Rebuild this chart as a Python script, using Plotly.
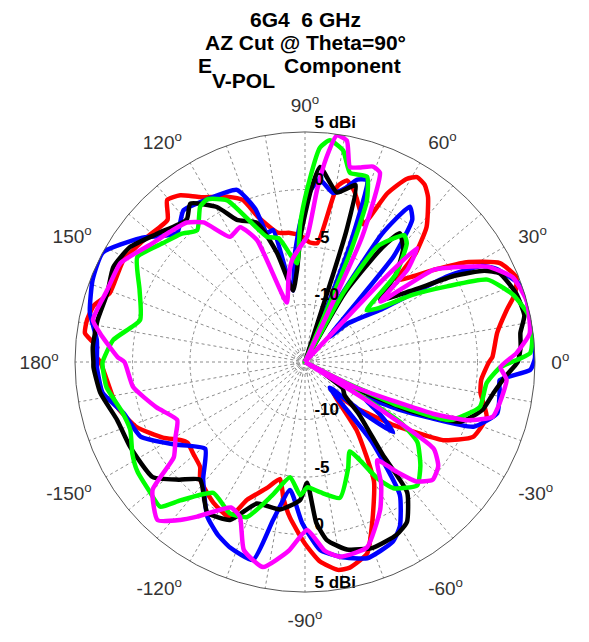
import plotly.graph_objects as go

# ---------------- data (angle in degrees, gain in dBi) ----------------
red_theta = [-180, -174.8, -166.5, -158.9, -152, -148, -145.5, -140, -135, -131.7, -123, -116, -112.8, -107, -102, -99,
             -95.5, -90, -85.7, -81, -77.7, -72, -67, -60, -53, -47, -42, -39.4, -35.6, -33, -29.5, -24, -16.8, -10,
             -5.8, 0, 1.5, 8.6, 14.4, 18, 21.8, 26.9, 31.7, 35.7, 41.7, 44.5, 48, 53.3, 56, 58.8, 61, 64, 67, 70, 74,
             77, 79.6, 84, 87.6, 92, 96.6, 102, 108, 111, 115.3, 122.5, 126.8, 130.4, 134, 141.6, 150.7, 160.5, 165,
             169, 172.5, 176, 177.6, 180]
red_db = [2.8, 2.3, 1.8, 0.7, -1.0, -2.2, -2.6, -2.4, -2.1, -1.3, -0.4, 0.0, -2.0, -3.5, -4.6, -3.0,
          -1.4, 0.8, 2.4, 3.3, 3.3, 2.5, 0.0, -3.0, -7.5, -11.4, -9.0, -8.0, -5.6, -4.0, -1.2, 1.0, 1.5, 0.5,
          0.4, 1.0, 1.3, 1.9, 3.1, 4.2, 4.8, 4.0, 1.5, -1.3, -4.3, -1.5, 0.8, 2.9, 3.6, 3.8, 3.2, 1.3, -2.0, -1.0, 0.5,
          1.2, 0.5, -4.6, -4.6, -4.0, -3.7, -3.5, -1.7, 0.1, 0.9, 2.0, 3.1, 3.5, 2.2, 2.5, 3.1, 3.0, 4.0,
          4.3, 4.3, 3.1, 3.4, 2.8]

blue_theta = [-180, -178.6, -171.3, -164.3, -155.6, -148, -139, -131, -122.3, -117, -112, -104.7, -101.4, -96.7, -91,
              -85.4, -79.8, -72.4, -64, -60, -54.5, -50, -46, -41, -38.5, -35, -31, -27, -24, -21, -14.9, -8.2, -5.3,
              -2, 1, 8.7, 19, 26, 28.5, 31, 34.7, 42, 46, 50, 53, 56, 59, 62, 66, 69, 71.2, 74, 77, 80.6, 85.3, 88,
              92, 96, 99.5, 101.5, 103.6, 106.4, 108, 111.6, 121, 128.7, 134.8, 143, 151.6, 158.9, 167, 174, 180]
blue_db = [3.1, 3.1, 2.8, 1.4, 0.7, -1.5, -3.5, -1.5, 0.9, 1.8, 2.4, 2.8, -1.0, -3.8, -1.0,
           1.4, 2.2, 2.9, 2.4, 1.5, -0.8, -6.0, -11.9, -8.0, -5.2, -7.0, -9.0, -6.0, -3.0, 0.7, 2.3, 2.1, 2.0,
           4.6, 5.0, 5.0, 5.0, 3.5, 2.5, -0.5, -7.0, -10.0, -12.0, -3.0, 0.5, 1.3, -2.0, -9.0, -12.0, -4.0, 1.7, 1.5,
           0.5, -0.1, 0.9, 0.0, -2.9, -6.0, -8.7, -7.5, -3.2, -3.3, -1.0, 1.1, 1.5, 1.9, 0.8, 2.9, 5.0, 4.8, 4.2,
           3.2, 3.1]

black_theta = [-180, -178.6, -171.4, -162.9, -154, -142.9, -137, -131.7, -123, -115.4, -108.8, -99.6, -92, -89, -86,
               -83, -77.4, -70, -62, -57.5, -51.9, -50, -44, -40, -35, -31, -28, -25, -21, -15, -9.4, -4, 0, 4, 7.7,
               12, 18, 24.5, 27, 30, 34, 39.6, 44, 49, 53.6, 56, 60, 64, 71, 72.5, 74, 79.3, 85.6, 88, 92, 95, 99.5,
               104.4, 109, 115.6, 119.6, 125.9, 129.7, 138.9, 146.7, 153.7, 160.8, 168.6, 176, 180]
black_db = [3.4, 3.4, 3.0, 2.1, 1.9, 1.6, 0.0, -1.3, 0.6, 0.2, -2.0, -2.0, -3.0, -4.5, -1.0,
            0.6, 1.7, 2.2, 2.0, 1.5, -0.6, -4.5, -8.5, -10.5, -11.0, -13.0, -10.0, -5.0, -0.5, 1.0, 1.6, 2.5, 3.5, 3.8,
            3.9, 4.5, 4.3, 3.6, 2.5, 0.0, -4.0, -6.5, -4.0, -2.0, -1.1, -3.0, -8.0, -15.0, -15.0, -3.0, 1.0, 0.0, 2.0,
            0.0, -4.0, -7.0, -8.7, -5.2, -2.2, -1.3, 0.5, 2.0, 1.1, 2.0, 3.2, 3.6, 3.2, 3.4, 3.5, 3.4]

green_theta = [-180, -178.6, -172.8, -165, -158.8, -152, -147, -140, -135, -132, -125, -116.4, -110.5, -104, -97.4,
               -92, -89, -83.4, -75.6, -68, -63.4, -58, -55, -47.7, -42, -35.5, -32.3, -30, -29, -27, -25, -21.8,
               -14.4, -6.6, -1.5, 2.3, 8.7, 12.4, 18, 24.3, 28, 32, 36, 40, 44, 49.4, 52, 55, 58, 61, 63, 66, 67.5,
               69, 71.5, 76.6, 79.8, 83.6, 86, 89.3, 92, 94.6, 98, 102, 107, 115.7, 121, 124, 129.3, 134, 140, 148,
               156.4, 165.7, 173.5, 180]
green_db = [2.6, 2.6, 2.4, 1.5, 1.3, 2.0, 2.4, 2.6, 2.8, 1.2, -1.1, -0.3, -0.6, -3.0, -4.9,
            -3.4, -4.1, -3.6, -2.8, -5.0, -6.3, -3.0, -1.6, -0.5, -1.5, -3.0, -5.2, -12.0, -15.0, -12.0, -6.0, -1.4,
            0.7, 0.9, 2.0, 4.6, 5.0, 4.8, 4.0, 2.4, -1.0, -4.0, -7.0, -8.0, -4.0, -1.4, -1.0, -2.0, -3.2, -8.0, -15.0,
            -15.0, -5.0, 0.0, 2.0, 1.9, 3.7, 4.4, 3.7, 0.0, -3.0, -6.4, -5.5, -4.0, -3.6, 0.6, 1.5, 1.3, -0.2, 0.5,
            1.1, 2.2, 0.7, -0.2, 1.8, 2.6]

magenta_theta = [-180, -171.7, -163, -155.6, -150, -144, -140, -133, -128.3, -124.9, -117, -112.8, -108, -101.6, -95,
                 -89.3, -84, -79.8, -71.5, -63, -58, -53.7, -50, -47, -42.7, -38, -34, -32, -30, -28, -26.6, -22,
                 -19.7, -16.3, -11.9, -5, -1.5, 2.4, 7.3, 15.4, 22.2, 27.6, 31.5, 35.7, 38.7, 42, 45.5, 46.5, 47.5,
                 63, 65.5, 68.4, 70.8, 74, 77, 79.3, 82, 84, 86, 89, 92.5, 97, 101, 107, 111.5, 115.7, 121, 126,
                 130.3, 136, 142, 151.8, 160, 168.8, 172, 178.5, 180]
magenta_db = [0.7, 0.1, -1.5, -2.8, -2.0, -0.9, 2.3, 3.8, 2.5, 1.4, -0.8, -0.4, 2.2, 3.2, 1.5,
              -0.4, 1.5, 2.2, 2.0, -0.6, -2.5, -4.4, -2.5, -0.8, 0.1, -0.3, -1.5, -8.0, -15.0, -15.0, -10.0, -3.0,
              0.0, 2.0, 2.3, 2.6, 2.0, 3.4, 4.7, 5.0, 4.5, 2.9, 0.8, -1.3, -6.6, -3.0, -1.1, -5.0, -15.0,
              -15.0, -3.0, 2.7, 3.0, 2.6, 2.4, 4.6, 4.9, 2.9, 0.0, -4.1, -5.0, -6.0, -7.5, -9.6, -3.6, -2.0, -2.3, 0.0,
              0.9, 1.3, 1.8, 3.2, 3.3, 3.8, 3.0, 1.3, 0.7]

series = [
    ("red", red_theta, red_db),
    ("blue", blue_theta, blue_db),
    ("black", black_theta, black_db),
    ("#00ff00", green_theta, green_db),
    ("#ff00ff", magenta_theta, magenta_db),
]

r_min, r_max = -15, 5
ring_values = [-14.5, -14, -10, -5, 0]
ring_labels = ["-10", "-5", "0", "5 dBi"]
ring_label_r = [-10, -5, 0, 5]
angle_labels = {0: "0", 30: "30", 60: "60", 90: "90", 120: "120", 150: "150", 180: "180",
                210: "-150", 240: "-120", 270: "-90", 300: "-60", 330: "-30"}
title_line1 = "6G4  6 GHz"
title_line2 = "AZ Cut @ Theta=90°"
title_line3 = ("E", "V-POL", "Component")

# ---------------- figure ----------------
fig = go.Figure()
for color, th, db in series:
    fig.add_trace(go.Scatterpolar(theta=th, r=db, mode="lines",
                                  line=dict(color=color, width=4.5, shape="spline", smoothing=0.5),
                                  showlegend=False, hoverinfo="skip"))

# radial labels (upper and lower)
lab_font = dict(family="Liberation Sans, Arial", size=17, color="black")
lab_text = ["\u00a0\u00a0<b>" + t + "</b>" for t in ring_labels]
fig.add_trace(go.Scatterpolar(theta=[90] * 4, r=ring_label_r, mode="text", text=lab_text,
                              textposition="top right", textfont=lab_font, showlegend=False, hoverinfo="skip"))
fig.add_trace(go.Scatterpolar(theta=[-90] * 4, r=ring_label_r, mode="text", text=lab_text,
                              textposition="top right", textfont=lab_font, showlegend=False, hoverinfo="skip"))

tickvals = list(range(0, 360, 10))
ticktext = [(angle_labels[v] + "<sup>o</sup>") if v in angle_labels else "" for v in tickvals]

# page body adds an 8px margin, so the figure is 8px smaller and positions are shifted
OFF = 8
W, H = 589 - OFF, 642 - OFF
cx, cy, R = 305 - OFF, 362 - OFF, 230
fig.update_layout(
    width=W, height=H,
    margin=dict(l=0, r=0, t=0, b=0),
    paper_bgcolor="white",
    polar=dict(
        domain=dict(x=[(cx - R) / W, (cx + R) / W], y=[(H - cy - R) / H, (H - cy + R) / H]),
        bgcolor="white",
        radialaxis=dict(range=[r_min, r_max], tickvals=ring_values, showticklabels=False, ticks="",
                        showline=False, gridcolor="#8c8c8c", griddash="dot", gridwidth=1, angle=90),
        angularaxis=dict(direction="counterclockwise", rotation=0, tickvals=tickvals, ticktext=ticktext,
                         ticks="outside", ticklen=12, tickcolor="rgba(0,0,0,0)",
                         tickfont=dict(family="Liberation Sans, Arial", size=19, color="#333333"),
                         showline=True, linecolor="#555555", linewidth=1,
                         gridcolor="#8c8c8c", griddash="dot", gridwidth=1),
    ),
)

tfont = dict(family="Liberation Sans, Arial", size=21, color="black")


def add_text(txt, x, y, anchor="center"):
    fig.add_annotation(text="<b>" + txt + "</b>", x=(x - OFF) / W, y=1 - (y - OFF) / H,
                       xref="paper", yref="paper", showarrow=False, xanchor=anchor, yanchor="middle",
                       font=tfont, borderpad=0)


add_text(title_line1, 305, 19)
add_text(title_line2, 305, 42)
add_text(title_line3[0], 197, 66, "left")
add_text(title_line3[1], 211, 81, "left")
add_text(title_line3[2], 283, 66, "left")

fig.write_html("out.html")
